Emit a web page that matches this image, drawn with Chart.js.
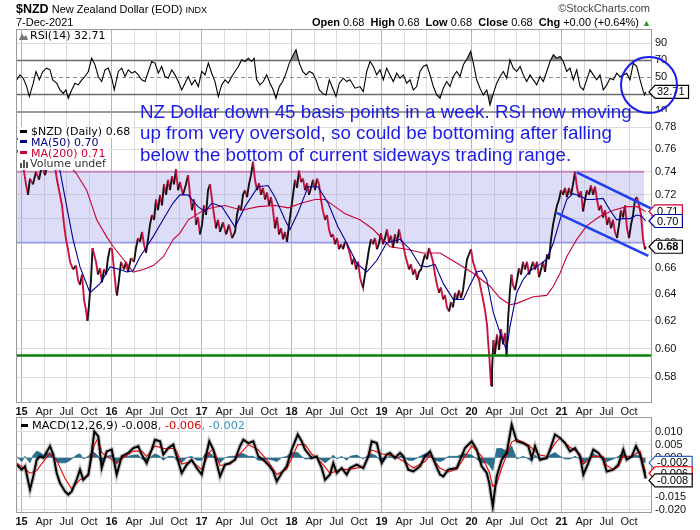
<!DOCTYPE html>
<html>
<head>
<meta charset="utf-8">
<script src="https://cdn.jsdelivr.net/npm/chart.js@4.4.1/dist/chart.umd.min.js"></script>
<style>
  body { margin: 0; background: #fff; font-family: "Liberation Sans", Arial, sans-serif; }
  #wrap { position: relative; width: 700px; height: 530px; overflow: hidden; }
  canvas { position: absolute; left: 0; }
  .txt { position: absolute; white-space: nowrap; line-height: 1; color: #000; }
  .leg { font-family: "DejaVu Sans", sans-serif; font-size: 11px; }
  .lg { background: #fff; width: fit-content; padding-right: 2px; }
  .mk { display: inline-block; width: 7px; height: 3px; vertical-align: middle; margin: 0 4px 2px 2px; }
</style>
</head>
<body>
<div id="wrap">
  <canvas id="rsiChart" width="700" height="112" style="top:0"></canvas>
  <canvas id="priceChart" width="700" height="305" style="top:112px"></canvas>
  <canvas id="macdChart" width="700" height="113" style="top:417px"></canvas>

  <div class="txt" style="left:16px;top:3px;font-size:11px"><b style="font-size:12.5px">$NZD</b> New Zealand Dollar (EOD) <span style="font-size:9px">INDX</span></div>
  <div class="txt" style="right:50px;top:3px;font-size:11px;color:#444">&copy;StockCharts.com</div>
  <div class="txt" style="left:16px;top:17px;font-size:11px">7-Dec-2021</div>
  <div class="txt" style="right:49px;top:17px;font-size:11px"><b>Open</b> 0.68 &nbsp;<b>High</b> 0.68 &nbsp;<b>Low</b> 0.68 &nbsp;<b>Close</b> 0.68 &nbsp;<b>Chg</b> +0.00 (+0.64%) <span style="color:#2a9a2a;font-size:9px">&#9650;</span></div>

  <div class="txt leg" style="left:19px;top:30px"><svg width="9" height="8" style="vertical-align:-1px;margin-right:2px"><path d="M0 8 L3 1 L5 5 L7 3 L9 8 Z" fill="#777"/></svg>RSI(14) 32.71</div>

  <div class="txt leg" style="left:18px;top:127px;line-height:10.8px">
    <div class="lg"><span class="mk" style="background:#000"></span>$NZD (Daily) 0.68</div>
    <div class="lg" style="color:#000080"><span class="mk" style="background:#000080"></span>MA(50) 0.70</div>
    <div class="lg" style="color:#cc0033"><span class="mk" style="background:#cc0033"></span>MA(200) 0.71</div>
    <div class="lg" style="color:#333"><svg width="9" height="8" style="vertical-align:-1px;margin:0 1px 0 2px"><rect x="0" y="3" width="2" height="5" fill="#555"/><rect x="3" y="0" width="2" height="8" fill="#555"/><rect x="6" y="2" width="2" height="6" fill="#555"/></svg>Volume undef</div>
  </div>

  <div class="txt leg" style="left:19px;top:420px;font-size:11.3px"><span class="mk" style="background:#000"></span>MACD(12,26,9) -0.008<span style="color:#e00000">, -0.006</span><span style="color:#3a8fc0">, -0.002</span></div>

  <div class="txt" style="left:140px;top:101px;font-size:18.8px;line-height:21.3px;color:#1c1ce8">NZ Dollar down 45 basis points in a week. RSI now moving<br>up from very oversold, so could be bottoming after falling<br>below the bottom of current sideways trading range.</div>

  <div style="position:absolute;left:620px;top:56px;width:54px;height:54px;border:2px solid #1c1ce8;border-radius:50%"></div>
</div>

<script>
// time axis: months since Jan 2015 (0 = Jan 2015, 12 = Jan 2016 ...)
const xMin = -0.6, xMax = 83.93;
const quarterMonths = [0,3,6,9,12,15,18,21,24,27,30,33,36,39,42,45,48,51,54,57,60,63,66,69,72,75,78,81];
const yearLabels = ['15','16','17','18','19','20','21'];
const quarterLabels = ['Apr','Jul','Oct'];

const priceTicks = [0.58,0.60,0.62,0.64,0.66,0.68,0.70,0.72,0.74,0.76,0.78];
const rsiTicks = [10,30,50,70,90];
const rsiLevels = [30,50,70];
const macdTicks = [-20,-15,-10,-5,0,5,10];   // in units of 0.001

// $NZD daily close (sampled)
const priceMonth = [
  -0.60,-0.20,0.20,0.60,0.87,1.13,1.53,1.93,2.33,2.73,3.13,3.53,3.93,4.33,4.73,5.13,
  5.40,5.67,5.93,6.20,6.47,6.87,7.27,7.53,7.80,8.07,8.33,8.60,8.80,9.00,9.27,9.47,9.67,9.93,10.20,10.47,
  10.73,11.00,11.27,11.53,11.80,12.07,12.33,12.60,12.73,13.00,13.27,13.67,13.93,14.20,14.60,15.00,15.27,15.53,15.80,16.07,
  16.33,16.60,16.87,17.13,17.40,17.67,17.93,18.20,18.47,18.73,19.00,19.27,19.53,19.80,20.07,20.33,20.60,20.87,21.13,21.53,
  21.93,22.20,22.47,22.73,23.00,23.27,23.53,23.80,24.07,24.33,24.60,24.87,25.13,25.40,25.67,25.93,26.20,26.47,26.87,27.27,
  27.67,28.07,28.47,28.73,29.00,29.27,29.53,29.80,30.07,30.33,30.60,30.87,31.13,31.40,31.67,31.93,32.20,32.47,32.73,33.00,
  33.27,33.53,33.80,34.07,34.33,34.60,34.87,35.13,35.40,35.67,35.93,36.20,36.47,36.73,37.00,37.27,37.53,37.80,38.07,38.33,
  38.60,38.87,39.13,39.40,39.67,39.93,40.20,40.47,40.73,41.00,41.27,41.53,41.80,42.07,42.33,42.60,42.87,43.13,43.40,43.80,
  44.07,44.33,44.60,44.87,45.13,45.40,45.53,45.80,46.07,46.33,46.60,46.87,47.13,47.40,47.67,47.93,48.20,48.47,48.73,49.00,
  49.27,49.53,49.80,50.07,50.33,50.60,50.87,51.13,51.40,51.67,51.93,52.20,52.47,52.73,53.00,53.27,53.53,53.80,54.07,54.33,
  54.60,54.87,55.13,55.40,55.67,55.93,56.20,56.47,56.73,57.00,57.27,57.53,57.80,58.07,58.33,58.60,58.87,59.13,59.40,59.67,
  59.93,60.20,60.47,60.73,61.00,61.27,61.53,61.80,62.07,62.20,62.40,62.60,62.73,62.93,63.13,63.40,63.67,63.93,64.20,64.47,
  64.67,64.87,65.13,65.33,65.53,65.80,66.07,66.33,66.60,66.87,67.13,67.40,67.67,67.93,68.20,68.47,68.73,69.00,69.27,69.53,
  69.80,70.07,70.33,70.60,70.87,71.13,71.40,71.67,71.93,72.20,72.47,72.73,73.00,73.27,73.53,73.80,74.07,74.33,74.60,74.87,
  75.13,75.40,75.67,75.93,76.20,76.47,76.73,77.00,77.27,77.53,77.80,78.07,78.33,78.60,78.87,79.13,79.40,79.67,79.93,80.20,
  80.47,80.73,81.00,81.27,81.53,81.80,82.07,82.33,82.60,82.87,83.13,83.23
];
const priceClose = [
  0.759,0.755,0.746,0.729,0.720,0.734,0.729,0.740,0.733,0.746,0.737,0.750,0.742,0.751,0.733,0.720,
  0.711,0.695,0.683,0.675,0.665,0.659,0.662,0.651,0.647,0.655,0.636,0.628,0.620,0.632,0.651,0.676,0.671,0.665,0.655,0.660,
  0.649,0.659,0.655,0.668,0.676,0.675,0.659,0.643,0.639,0.651,0.665,0.659,0.665,0.657,0.668,0.665,0.676,0.684,0.681,0.689,
  0.679,0.672,0.683,0.695,0.703,0.699,0.716,0.707,0.720,0.711,0.729,0.720,0.733,0.724,0.736,0.729,0.742,0.724,0.731,0.720,
  0.729,0.737,0.720,0.707,0.716,0.695,0.701,0.687,0.695,0.711,0.703,0.724,0.729,0.716,0.703,0.692,0.699,0.689,0.697,0.687,
  0.695,0.684,0.689,0.703,0.711,0.707,0.720,0.724,0.718,0.729,0.737,0.749,0.733,0.724,0.730,0.720,0.726,0.716,0.722,0.711,
  0.718,0.707,0.692,0.701,0.687,0.692,0.683,0.689,0.681,0.695,0.707,0.720,0.733,0.726,0.741,0.731,0.734,0.724,0.730,0.720,
  0.726,0.733,0.724,0.734,0.729,0.716,0.706,0.699,0.703,0.691,0.685,0.687,0.679,0.684,0.675,0.679,0.675,0.681,0.679,0.671,
  0.663,0.668,0.659,0.665,0.653,0.647,0.645,0.655,0.665,0.675,0.683,0.679,0.684,0.675,0.680,0.688,0.679,0.684,0.691,0.681,
  0.686,0.676,0.687,0.680,0.691,0.683,0.679,0.671,0.665,0.659,0.663,0.655,0.659,0.651,0.657,0.659,0.665,0.671,0.667,0.676,
  0.671,0.665,0.655,0.647,0.641,0.645,0.636,0.639,0.630,0.627,0.634,0.630,0.641,0.636,0.643,0.637,0.643,0.655,0.667,0.671,
  0.675,0.665,0.660,0.655,0.651,0.643,0.636,0.628,0.617,0.606,0.592,0.574,0.585,0.606,0.596,0.610,0.599,0.614,0.603,0.611,
  0.594,0.621,0.643,0.655,0.647,0.643,0.651,0.660,0.655,0.665,0.659,0.665,0.655,0.660,0.665,0.659,0.665,0.653,0.659,0.665,
  0.657,0.671,0.667,0.683,0.695,0.703,0.711,0.716,0.724,0.720,0.726,0.718,0.726,0.720,0.729,0.740,0.726,0.718,0.723,0.706,
  0.716,0.724,0.720,0.728,0.720,0.727,0.716,0.707,0.711,0.701,0.707,0.695,0.701,0.692,0.699,0.689,0.684,0.695,0.707,0.701,
  0.711,0.692,0.684,0.695,0.703,0.716,0.718,0.711,0.703,0.683,0.675,0.677
];

const ma50Month = [-0.60,2.00,4.00,5.13,6.03,6.87,7.80,9.13,10.47,11.80,13.13,14.03,14.87,15.80,16.69,17.53,18.87,20.20,21.13,22.20,
  23.53,24.47,25.40,26.73,28.47,29.80,31.53,32.87,33.80,35.13,35.80,36.87,38.20,39.53,40.87,42.20,43.36,44.69,46.03,47.36,
  48.69,50.47,51.80,53.13,54.03,55.13,56.24,57.57,58.91,59.80,60.69,61.36,62.03,62.91,64.24,64.69,65.13,66.03,66.87,67.80,
  69.13,70.03,70.91,71.80,72.69,73.53,74.47,75.36,76.20,77.53,78.47,79.36,80.20,81.13,82.03,82.69,83.23];
const ma50 = [0.770,0.750,0.748,0.741,0.710,0.683,0.661,0.641,0.648,0.661,0.659,0.657,0.658,0.669,0.677,0.685,0.699,0.713,0.720,0.720,
  0.710,0.706,0.713,0.710,0.693,0.710,0.727,0.728,0.718,0.699,0.691,0.705,0.727,0.727,0.713,0.693,0.680,0.664,0.657,0.666,
  0.680,0.683,0.675,0.662,0.661,0.663,0.648,0.636,0.636,0.647,0.657,0.658,0.651,0.626,0.604,0.599,0.616,0.641,0.651,0.658,
  0.663,0.667,0.680,0.699,0.716,0.721,0.719,0.716,0.716,0.717,0.707,0.699,0.700,0.700,0.703,0.702,0.698];

const ma200Month = [4.47,6.20,7.36,8.69,10.03,11.36,12.24,13.57,14.91,16.24,17.57,18.91,20.24,21.13,22.24,24.03,25.36,27.13,29.36,31.57,
  33.80,35.57,37.36,39.13,40.47,41.80,43.13,45.13,46.91,49.13,51.36,53.57,55.80,58.03,60.24,62.47,63.80,65.13,66.03,68.24,
  70.03,70.91,71.80,72.69,74.03,75.36,77.13,78.91,80.69,82.03,83.23];
const ma200 = [0.760,0.747,0.738,0.724,0.699,0.685,0.677,0.667,0.657,0.659,0.662,0.669,0.683,0.688,0.699,0.706,0.709,0.711,0.707,0.710,
  0.711,0.709,0.713,0.716,0.716,0.710,0.704,0.699,0.691,0.677,0.675,0.672,0.672,0.664,0.656,0.646,0.637,0.632,0.633,0.638,
  0.639,0.646,0.656,0.669,0.683,0.694,0.702,0.707,0.710,0.710,0.706];

// sideways range, support line and falling channel
const rangeTop = 0.74, rangeBottom = 0.6804, rangeEndMonth = 83.0;
const supportLevel = 0.595;
const channelUpperMonth = [74.03, 83.89], channelUpper = [0.7394, 0.7085];
const channelLowerMonth = [71.36, 83.57], channelLower = [0.7048, 0.6697];

// RSI(14)
const rsiMonth = [
  -0.64,-0.20,0.24,0.69,1.04,1.57,1.93,2.37,2.83,3.36,3.80,4.16,4.69,5.13,5.57,5.93,6.24,6.69,7.13,7.57,
  8.03,8.47,8.91,9.36,9.80,10.24,10.69,11.13,11.57,12.03,12.37,12.91,13.36,13.80,14.24,14.69,15.13,15.57,16.03,16.47,
  16.91,17.36,17.80,18.24,18.69,19.13,19.57,20.03,20.47,20.91,21.36,21.80,22.24,22.69,23.13,23.57,24.03,24.47,24.91,25.36,
  25.80,26.24,26.69,27.13,27.57,28.03,28.47,28.91,29.36,29.80,30.24,30.69,31.00,31.36,31.80,32.24,32.69,33.13,33.57,33.93,
  34.37,34.83,35.27,35.71,36.24,36.60,37.04,37.49,37.93,38.37,38.83,39.27,39.71,40.16,40.60,41.04,41.49,41.93,42.37,42.91,
  43.36,43.80,44.47,45.13,45.57,46.03,46.47,46.91,47.36,47.80,48.24,48.69,49.13,49.57,50.03,50.47,50.91,51.36,51.80,52.24,
  52.69,53.13,53.57,54.03,54.47,54.91,55.36,55.80,56.24,56.69,57.13,57.57,58.03,58.47,58.91,59.44,59.89,60.24,60.69,61.13,
  61.57,62.03,62.47,62.91,63.36,63.80,64.24,64.69,65.13,65.57,66.03,66.47,66.91,67.36,67.80,68.24,68.69,69.13,69.57,70.03,
  70.47,70.91,71.36,71.80,72.24,72.69,73.13,73.57,74.03,74.47,74.91,75.36,75.80,76.24,76.69,77.13,77.57,78.03,78.47,78.91,
  79.36,79.80,80.24,80.69,81.13,81.57,82.03,82.47,82.91,83.07,83.23
];
const rsi = [
  46.9,52.7,48.8,39,27.3,43,56.7,46.9,56.7,60.6,58.6,46.9,43,35,31,35,25.3,35,43,41,
  46.9,50.8,56.7,72.3,64.5,50.8,44.9,58.6,60.6,48.8,35,56.7,60.6,50.8,58.6,54.7,56.7,52.7,46.9,44.9,
  56.7,68.4,66.5,54.7,62.5,50.8,48.8,58.6,52.7,44.9,35,43,50.8,41,46.9,39,56.7,52.7,66.5,54.7,
  44.9,27.3,41,46.9,43,50.8,56.7,62.5,70.4,68.4,72.3,68.4,72.3,46.9,41,44.9,52.7,43,35,25.3,
  39,44.9,54.7,66.5,76.3,82.1,66.5,56.7,52.7,56.7,54.7,46.9,35,31,29.2,46.9,37.1,27.3,43,48.8,
  44.9,46.9,37.1,39,33.1,56.7,68.4,62.5,52.7,58.6,46.9,60.6,52.7,44.9,54.7,48.8,52.7,43,46.9,35,
  39,56.7,62.5,64.5,52.7,39,29.2,25.3,37.1,44.9,39,50.8,56.7,50.8,64.5,72.3,80.2,66.5,46.9,37.1,
  29.2,35,17.5,31,43,50.8,56.7,48.8,70.4,60.6,56.7,62.5,52.7,44.9,52.7,46.9,41,50.8,44.9,56.7,
  68.4,76.3,72.3,74.3,68.4,56.7,60.6,46.9,58.6,39,35,46.9,58.6,52.7,46.9,52.7,35,41,48.8,46.9,
  54.7,50.8,52.7,54.7,46.9,66.5,62.5,46.9,33.1,29.2,32.71
];

// MACD(12,26,9), values in units of 0.001
const macdMonth = [
  -0.64,0.03,0.47,1.13,1.57,2.03,2.47,2.91,3.80,4.24,4.69,5.13,5.80,6.24,6.69,7.36,7.80,8.24,8.91,9.36,
  9.71,10.24,10.69,11.36,12.03,12.69,13.36,14.24,14.91,15.57,16.03,16.69,17.36,17.80,18.47,18.91,19.57,20.24,20.69,21.36,
  22.03,22.69,23.36,24.03,24.47,25.04,25.57,26.47,27.13,27.80,28.47,29.13,29.57,30.24,30.91,31.57,32.24,32.91,33.57,34.03,
  34.69,35.36,36.03,36.83,37.36,37.80,38.69,39.36,40.03,40.47,41.13,41.57,42.03,42.69,43.36,43.80,44.69,45.57,46.24,46.69,
  47.36,48.03,48.69,49.13,49.80,50.47,50.91,51.57,52.24,53.13,53.80,54.47,55.13,55.80,56.24,56.91,58.03,59.13,60.03,60.69,
  61.36,62.03,62.37,62.83,63.36,64.03,64.69,65.36,66.03,66.91,67.57,68.03,68.47,69.13,70.03,70.47,71.13,71.80,72.47,73.13,
  73.80,74.47,74.91,75.57,76.24,76.91,77.57,78.03,78.91,79.57,80.24,80.69,81.36,81.93,82.47,82.91,83.23
];
const macdLine = [
  -2.7,-4.6,-3.3,-12.3,-7.2,-0.8,0.5,-0.1,4.4,1.2,-5.9,-9.8,-13.0,-14.2,-13.0,-8.5,-4.6,-8.5,-6.5,1.8,
  10.1,8.2,-4.0,2.4,3.1,-6.5,0.5,1.8,3.7,4.4,1.2,-2.1,3.1,6.9,6.3,1.2,3.7,5.0,0.5,-5.9,
  -2.7,-0.8,-4.0,-6.5,-0.8,6.3,3.1,-7.2,-2.7,-2.1,-0.8,4.4,6.9,5.6,6.3,0.5,-0.8,-2.7,-5.3,-9.1,
  -5.9,-3.3,3.1,8.9,6.3,3.1,-0.1,0.5,-4.0,-8.5,-6.5,-2.1,-5.9,-4.0,-6.5,-4.0,-2.7,-4.0,0.5,6.3,
  5.6,-2.1,1.2,1.8,-0.1,1.8,0.5,-4.6,-5.3,-3.3,0.5,2.4,-2.1,-6.5,-7.2,-4.6,-4.0,3.7,6.3,3.1,
  -3.3,-5.9,-9.8,-18.7,-7.2,-0.8,1.8,12.7,6.3,5.6,4.4,-0.1,4.4,-0.8,-0.1,3.1,8.9,7.6,5.6,2.4,
  3.7,0.5,-6.5,-2.1,3.1,1.8,-0.8,-5.3,-4.6,-2.7,3.1,-0.8,0.5,4.4,1.2,-4.0,-8.0
];
const macdHist = [
  0.5,-1.5,0.5,-2.0,1.0,2.5,2.0,1.0,2.0,0.5,-1.5,-2.0,-2.0,-1.5,-0.5,1.0,1.5,-0.5,0.5,2.0,
  2.0,0.5,-2.5,0.5,1.0,-2.5,0.5,0.5,1.0,1.0,-0.5,-1.0,0.5,1.5,0.5,-1.0,0.5,0.5,-1.0,-2.0,
  0.0,0.5,-1.0,-1.0,1.5,2.0,0.5,-2.0,0.0,0.5,0.5,1.5,1.5,0.5,0.5,-1.0,-1.0,-0.5,-1.0,-1.5,
  0.0,0.5,2.0,2.0,0.5,-0.5,-0.5,0.5,-1.0,-2.0,-0.5,1.0,-0.5,0.5,-1.0,0.5,1.0,-0.5,1.0,1.5,
  0.5,-2.0,0.0,0.5,-0.5,0.5,0.5,-1.0,-1.0,0.5,1.5,1.0,-1.0,-1.5,-1.0,0.5,0.5,1.5,1.0,-0.5,
  -2.0,-2.0,-3.0,-5.0,3.5,3.5,2.5,4.5,-0.5,0.5,-0.5,-1.5,1.0,-1.0,-0.5,1.0,2.0,0.5,-0.5,-0.5,
  0.5,-0.5,-2.5,-0.5,1.5,0.5,-0.5,-1.5,-0.5,0.5,1.5,-0.5,0.5,1.0,0.5,-1.5,-2.0
];
const signalMonth = [-0.64,1.13,2.03,2.91,3.80,4.69,5.80,6.69,7.80,8.91,9.71,10.24,10.69,11.36,12.69,13.36,14.91,16.03,16.69,17.80,
  18.91,20.24,20.69,21.36,22.69,24.03,25.04,25.57,26.47,27.80,29.13,30.24,31.57,32.91,34.03,35.36,36.83,37.80,38.69,40.03,
  41.13,42.69,43.80,45.57,46.69,48.03,49.80,51.57,52.24,53.80,54.47,55.80,56.91,58.03,59.13,60.03,61.36,62.37,62.83,63.36,
  64.03,65.36,66.03,67.57,68.47,69.13,70.03,71.13,71.80,73.13,74.47,74.91,76.24,77.57,78.03,78.91,79.57,80.24,81.36,82.47,83.23];
const signalLine = [-2.0,-6.0,-5.0,-1.5,1.5,-1.0,-8.0,-12.0,-8.5,-7.0,5.0,7.5,2.0,0.5,-2.0,-0.5,2.5,2.5,0.5,4.5,
  3.5,3.5,2.5,-2.5,-1.5,-4.5,2.0,3.5,-3.0,-2.5,1.5,5.0,3.0,-1.5,-6.5,-4.5,5.0,5.0,1.5,-2.0,
  -6.0,-4.5,-4.5,-3.5,3.0,1.5,0.5,-2.5,-4.0,-1.5,1.0,-4.0,-5.5,-4.5,0.5,4.5,0.5,-5.5,-11.0,-10.0,
  -4.0,6.0,7.0,5.0,2.5,1.0,0.5,5.5,7.5,4.0,1.5,-2.5,0.5,0.5,-3.0,-4.5,-3.5,0.5,0.5,2.5,-6.0];

const pts = (xs, ys) => xs.map((x, i) => ({x: x, y: ys[i]}));
const TICK_FONT = 'Liberation Sans';

function xAxis(showLabels, height) {
  return {
    type: 'linear', min: xMin, max: xMax,
    afterBuildTicks: s => { s.ticks = quarterMonths.map(v => ({value: v})); },
    afterFit: s => { s.height = height; s.paddingLeft = 0; s.paddingRight = 0; },
    border: {display: false},
    grid: {
      drawTicks: false,
      color: c => (c.tick && c.tick.value % 12 === 0) ? '#b4b4b4' : '#dcdcdc'
    },
    ticks: {
      display: showLabels, autoSkip: false, maxRotation: 0, padding: 2, color: '#111',
      font: c => ({family: TICK_FONT, size: 11, weight: (c.tick && c.tick.value % 12 === 0) ? 'bold' : 'normal'}),
      callback: v => v % 12 === 0 ? yearLabels[v / 12] : quarterLabels[(v % 12) / 3 - 1]
    }
  };
}

function yAxis(extra) {
  return Object.assign({
    position: 'right',
    afterFit: s => { s.width = 49; s.paddingTop = 0; s.paddingBottom = 0; },
    border: {display: false},
    grid: {drawTicks: false, color: '#dcdcdc'},
    ticks: {padding: 4, color: '#111', font: {family: TICK_FONT, size: 11}, autoSkip: false}
  }, extra);
}

function drawFrame(chart) {
  const {ctx, chartArea: a} = chart;
  ctx.save();
  ctx.strokeStyle = '#9a9a9a';
  ctx.lineWidth = 1;
  ctx.strokeRect(a.left - 0.5, a.top + 0.5, a.right - a.left + 1, a.bottom - a.top - 1);
  ctx.restore();
}

function drawTag(chart, y, text, color, bold) {
  const ctx = chart.ctx, x = chart.chartArea.right - 2;
  ctx.save();
  ctx.font = (bold ? 'bold ' : '') + '11px "Liberation Sans"';
  const w = ctx.measureText(text).width + 5;
  ctx.beginPath();
  ctx.moveTo(x, y);
  ctx.lineTo(x + 6, y - 6.5);
  ctx.lineTo(x + 7 + w, y - 6.5);
  ctx.lineTo(x + 7 + w, y + 6.5);
  ctx.lineTo(x + 6, y + 6.5);
  ctx.closePath();
  ctx.fillStyle = '#fff';
  ctx.fill();
  ctx.strokeStyle = color;
  ctx.lineWidth = 1.2;
  ctx.stroke();
  ctx.fillStyle = '#000';
  ctx.textBaseline = 'middle';
  ctx.fillText(text, x + 8, y + 0.5);
  ctx.restore();
}

const common = {
  responsive: false, animation: false, devicePixelRatio: 1,
  plugins: {legend: {display: false}, tooltip: {enabled: false}},
  elements: {point: {radius: 0}, line: {tension: 0}}
};

// ---------- RSI panel ----------
new Chart(document.getElementById('rsiChart'), {
  type: 'line',
  data: {
    datasets: [
      {data: pts(rsiMonth, rsi), borderColor: '#000', borderWidth: 1.1, fill: false},
      {data: pts(rsiMonth, rsi), borderWidth: 0, fill: {target: {value: 70}, above: '#8a8a8a', below: 'rgba(0,0,0,0)'}},
      {data: pts(rsiMonth, rsi), borderWidth: 0, fill: {target: {value: 30}, above: 'rgba(0,0,0,0)', below: '#8a8a8a'}}
    ]
  },
  options: Object.assign({}, common, {
    layout: {padding: {left: 17, top: 29, right: 0, bottom: 0}},
    scales: {
      x: xAxis(false, 0),
      y: yAxis({
        min: 9.2, max: 106.5,
        afterBuildTicks: s => { s.ticks = rsiTicks.map(v => ({value: v})); },
        grid: {drawTicks: false, color: c => rsiLevels.includes(c.tick.value) ? 'rgba(0,0,0,0)' : '#dcdcdc'}
      })
    }
  }),
  plugins: [{
    id: 'rsiDecor',
    beforeDatasetsDraw(chart) {
      const {ctx, chartArea: a, scales: {y}} = chart;
      ctx.save();
      rsiLevels.forEach(v => {
        const py = Math.round(y.getPixelForValue(v)) + 0.5;
        ctx.beginPath();
        ctx.strokeStyle = v === 50 ? '#8a8a8a' : '#666';
        ctx.lineWidth = v === 50 ? 1 : 1.3;
        ctx.setLineDash(v === 50 ? [4, 3] : []);
        ctx.moveTo(a.left, py);
        ctx.lineTo(a.right, py);
        ctx.stroke();
      });
      ctx.restore();
    },
    afterDraw(chart) {
      drawFrame(chart);
      const last = rsi[rsi.length - 1];
      drawTag(chart, chart.scales.y.getPixelForValue(last), last.toFixed(2), '#000', false);
    }
  }]
});

// ---------- price panel ----------
const segColor = c => c.p1.parsed.y >= c.p0.parsed.y ? '#111' : '#cc1040';
new Chart(document.getElementById('priceChart'), {
  type: 'line',
  data: {
    datasets: [
      {data: pts(channelUpperMonth, channelUpper), borderColor: '#1f3ff0', borderWidth: 2.6},
      {data: pts(channelLowerMonth, channelLower), borderColor: '#1f3ff0', borderWidth: 2.6},
      {data: pts([xMin, xMax], [supportLevel, supportLevel]), borderColor: '#0a800a', borderWidth: 2.4},
      {data: pts(ma50Month, ma50), borderColor: '#000099', borderWidth: 1.1},
      {data: pts(ma200Month, ma200), borderColor: '#cc0033', borderWidth: 1.1},
      {data: pts(priceMonth, priceClose), borderColor: '#cc1040', borderWidth: 1.9, segment: {borderColor: segColor}}
    ]
  },
  options: Object.assign({}, common, {
    layout: {padding: {left: 17, top: 0, right: 0, bottom: 0}},
    scales: {
      x: xAxis(true, 14),
      y: yAxis({
        type: 'logarithmic', min: 0.5624, max: 0.7944,
        afterBuildTicks: s => { s.ticks = priceTicks.map(v => ({value: v})); },
        ticks: {padding: 4, color: '#111', font: {family: TICK_FONT, size: 11}, autoSkip: false, callback: v => v.toFixed(2)}
      })
    }
  }),
  plugins: [{
    id: 'priceDecor',
    beforeDatasetsDraw(chart) {
      const {ctx, chartArea: a, scales: {x, y}} = chart;
      const x0 = a.left, x1 = x.getPixelForValue(rangeEndMonth);
      const yT = y.getPixelForValue(rangeTop), yB = y.getPixelForValue(rangeBottom);
      ctx.save();
      ctx.fillStyle = 'rgba(150,150,232,0.32)';
      ctx.fillRect(x0, yT, x1 - x0, yB - yT);
      ctx.lineWidth = 2;
      ctx.strokeStyle = 'rgba(190,110,170,0.75)';
      ctx.beginPath(); ctx.moveTo(x0, yT); ctx.lineTo(x1, yT); ctx.stroke();
      ctx.lineWidth = 1.5;
      ctx.strokeStyle = 'rgba(130,130,240,0.8)';
      ctx.beginPath(); ctx.moveTo(x0, yB); ctx.lineTo(x1, yB); ctx.stroke();
      ctx.restore();
    },
    afterDraw(chart) {
      drawFrame(chart);
      const y = chart.scales.y;
      const l200 = ma200[ma200.length - 1], l50 = ma50[ma50.length - 1], lp = priceClose[priceClose.length - 1];
      drawTag(chart, y.getPixelForValue(l200), l200.toFixed(2), '#cc0033', false);
      drawTag(chart, y.getPixelForValue(l50), l50.toFixed(2), '#000099', false);
      drawTag(chart, y.getPixelForValue(lp), lp.toFixed(2), '#000', true);
    }
  }]
});

// ---------- MACD panel ----------
new Chart(document.getElementById('macdChart'), {
  type: 'line',
  data: {
    datasets: [
      {data: pts(macdMonth, macdLine), borderColor: '#000', borderWidth: 2},
      {data: pts(signalMonth, signalLine), borderColor: '#ee0000', borderWidth: 1.1},
      {data: pts(macdMonth, macdLine), borderColor: 'rgba(0,0,0,0.22)', borderWidth: 4.5},
      {data: pts(macdMonth, macdHist), borderWidth: 0.8, borderColor: '#2b6f8e', fill: 'origin', backgroundColor: '#2b6f8e'}
    ]
  },
  options: Object.assign({}, common, {
    layout: {padding: {left: 17, top: 0, right: 0, bottom: 0}},
    scales: {
      x: xAxis(true, 17),
      y: yAxis({
        min: -21.3, max: 15.65,
        afterBuildTicks: s => { s.ticks = macdTicks.map(v => ({value: v})); },
        ticks: {padding: 4, color: '#111', font: {family: TICK_FONT, size: 11}, autoSkip: false, callback: v => (v / 1000).toFixed(3)}
      })
    }
  }),
  plugins: [{
    id: 'macdDecor',
    afterDraw(chart) {
      drawFrame(chart);
      const y = chart.scales.y;
      const h = macdHist[macdHist.length - 1], s = signalLine[signalLine.length - 1], m = macdLine[macdLine.length - 1];
      drawTag(chart, y.getPixelForValue(h), (h / 1000).toFixed(3), '#3060c0', false);
      drawTag(chart, y.getPixelForValue(s), (s / 1000).toFixed(3), '#ee0000', false);
      drawTag(chart, y.getPixelForValue(m) + 2, (m / 1000).toFixed(3), '#000', false);
    }
  }]
});
</script>
</body>
</html>
